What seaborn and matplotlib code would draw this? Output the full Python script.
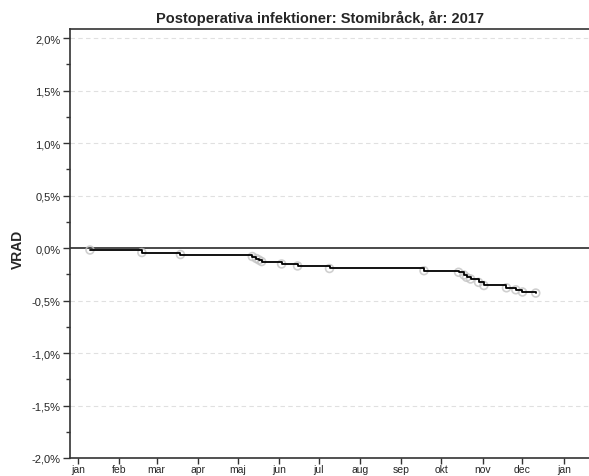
import pandas as pd
import numpy as np
import matplotlib
matplotlib.use("Agg")
import matplotlib.pyplot as plt
import matplotlib.dates as mdates
from matplotlib.ticker import FuncFormatter, MultipleLocator
import seaborn as sns

# data (event dates and VRAD in %)
event_dates = ["2017-01-10", "2017-02-18", "2017-03-19", "2017-05-12", "2017-05-15",
               "2017-05-17", "2017-05-19", "2017-06-03", "2017-06-15", "2017-07-09",
               "2017-09-18", "2017-10-14", "2017-10-18", "2017-10-20", "2017-10-23",
               "2017-10-29", "2017-11-02", "2017-11-19", "2017-11-26", "2017-12-01",
               "2017-12-11"]
vrad = [-0.019, -0.043, -0.062, -0.081, -0.100, -0.114, -0.129, -0.152, -0.171, -0.195,
        -0.216, -0.231, -0.257, -0.279, -0.295, -0.327, -0.357, -0.379, -0.398, -0.419,
        -0.429]
month_labels = ["jan", "feb", "mar", "apr", "maj", "jun", "jul", "aug", "sep", "okt",
                "nov", "dec", "jan"]
y_ticks = [-2.0, -1.5, -1.0, -0.5, 0.0, 0.5, 1.0, 1.5, 2.0]

df = pd.DataFrame({"datum": pd.to_datetime(event_dates), "VRAD": vrad})

sns.set_style("white")
plt.rcParams["font.family"] = ["Liberation Sans", "DejaVu Sans"]

fig = plt.figure(figsize=(5.89, 4.77), dpi=100)
ax = fig.add_axes([70 / 589, 1 - 459 / 477, 1 - 70 / 589, (459 - 30) / 477])

# grid + zero line
for v in y_ticks:
    if v == 0.0:
        ax.axhline(v, color="#3a3a3a", lw=1.3, zorder=2)
    elif v > -2.0:
        ax.axhline(v, color="#e0e0e0", lw=0.8, ls=(0, (4, 3)), zorder=1)

sns.lineplot(data=df, x="datum", y="VRAD", drawstyle="steps-post",
             color="black", lw=1.3, ax=ax, zorder=4)
sns.scatterplot(data=df, x="datum", y="VRAD", s=32, facecolor="none",
                edgecolor="#c4c4c4", linewidth=1.2, alpha=0.8, ax=ax, zorder=3)

ax.set_xlim(pd.Timestamp("2016-12-26"), pd.Timestamp("2018-01-20"))
ax.set_ylim(-2.0, 2.086)

month_pos = pd.date_range("2017-01-01", "2018-01-01", freq="MS")
ax.set_xticks(mdates.date2num(month_pos))
ax.set_xticklabels(month_labels)
ax.set_yticks(y_ticks)
ax.yaxis.set_minor_locator(MultipleLocator(0.25))
ax.yaxis.set_major_formatter(FuncFormatter(lambda v, p: f"{v:.1f}%".replace(".", ",")))

ax.tick_params(axis="y", which="major", direction="out", length=5, width=1,
               color="#333333", labelsize=8, pad=2, left=True)
ax.tick_params(axis="x", which="major", direction="out", length=4, width=1,
               color="#333333", labelsize=7.5, pad=0.5, bottom=True)
ax.tick_params(axis="y", which="minor", direction="out", length=3, width=1,
               color="#333333", left=True)

for side in ["left", "bottom", "top"]:
    ax.spines[side].set_color("#333333")
    ax.spines[side].set_linewidth(1.2)
ax.spines["right"].set_visible(False)

ax.set_xlabel("")
ax.set_ylabel("")
fig.text(18 / 589, 1 - 249 / 477, "VRAD", rotation=90, ha="center", va="center",
         fontsize=10, fontweight="bold")
fig.text(320 / 589, 1 - 18 / 477, "Postoperativa infektioner: Stomibråck, år: 2017",
         ha="center", va="center", fontsize=10.5, fontweight="bold")

fig.savefig("out.png", dpi=100)
